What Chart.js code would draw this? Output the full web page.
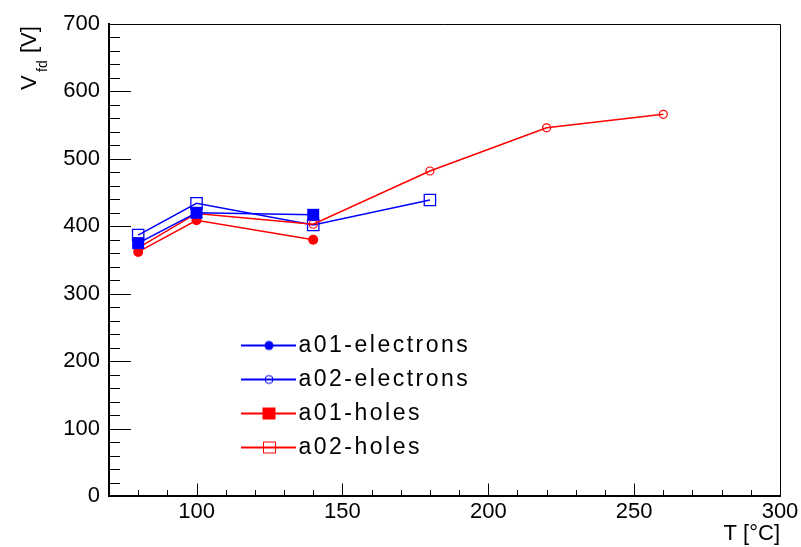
<!DOCTYPE html>
<html>
<head>
<meta charset="utf-8">
<script src="https://cdn.jsdelivr.net/npm/chart.js@4.4.1/dist/chart.umd.min.js"></script>
<style>
  html, body { margin: 0; padding: 0; background: #fff; }
  canvas { display: block; }
</style>
</head>
<body>
<canvas id="vfdChart" width="801" height="547"></canvas>
<script>
const seriesNames = ["a01-electrons", "a02-electrons", "a01-holes", "a02-holes"];

const a01ElectronsT = [80, 100, 140];
const a01ElectronsV = [375, 420, 417];
const a02ElectronsT = [80, 100, 140, 180];
const a02ElectronsV = [387, 434, 402, 439];
const a01HolesT = [80, 100, 140];
const a01HolesV = [362, 409, 380];
const a02HolesT = [80, 100, 140, 180, 220, 260];
const a02HolesV = [368, 419, 403, 482, 546, 566];

const xTickValues = [100, 150, 200, 250, 300];
const yTickValues = [0, 100, 200, 300, 400, 500, 600, 700];
const xMinorStep = 10;
const yMinorStep = 20;

const BLUE = "#0000ff";
const RED = "#ff0000";
const FONT = "'Liberation Sans', Arial, sans-serif";

Chart.defaults.font.family = FONT;
Chart.defaults.color = "#000";

function toPoints(xs, ys) {
    return xs.map((x, i) => ({x: x, y: ys[i]}));
}

// little line + marker pictures for the legend (ROOT style)
function legendSwatch(color, marker) {
    const c = document.createElement("canvas");
    c.width = 64;
    c.height = 20;
    const g = c.getContext("2d");
    g.strokeStyle = color;
    g.fillStyle = color;
    g.lineWidth = 2;
    g.beginPath();
    g.moveTo(9, 10);
    g.lineTo(64, 10);
    g.stroke();
    g.lineWidth = 1;
    if (marker === "dot") {
        g.beginPath();
        g.arc(37, 10, 4.5, 0, Math.PI * 2);
        g.fill();
    } else if (marker === "ring") {
        g.beginPath();
        g.arc(37, 10, 4, 0, Math.PI * 2);
        g.stroke();
    } else if (marker === "box") {
        g.fillRect(30.5, 4, 13, 12);
    } else {
        g.strokeRect(31.5, 4.5, 12, 11);
    }
    return c;
}

const swatches = [
    legendSwatch(BLUE, "dot"),
    legendSwatch(BLUE, "ring"),
    legendSwatch(RED, "box"),
    legendSwatch(RED, "square")
];

const rootFrame = {
    id: "rootFrame",
    afterLayout(chart) {
        const lg = chart.legend;
        if (!lg) return;
        lg.left = 230;
        lg.top = 323;
        lg.right = 780;
        lg.bottom = 323 + 300;
        if (!lg._spaced) {
            const baseDraw = lg.draw.bind(lg);
            lg.draw = function(area) {
                const c = this.ctx;
                c.save();
                c.letterSpacing = "2.5px";
                baseDraw(area);
                c.restore();
            };
            lg._spaced = true;
        }
    },
    beforeDatasetsDraw(chart) {
        const {ctx, chartArea: a, scales: {x, y}} = chart;
        ctx.save();
        ctx.strokeStyle = "#000";
        ctx.lineWidth = 1;
        ctx.beginPath();
        // frame top and right
        ctx.moveTo(a.left, a.top + 0.5);
        ctx.lineTo(a.right + 0.5, a.top + 0.5);
        ctx.lineTo(a.right + 0.5, a.bottom);
        // x ticks, drawn inward
        for (let v = Math.ceil(x.min / xMinorStep) * xMinorStep; v <= x.max; v += xMinorStep) {
            if (v <= x.min) continue;
            const px = Math.round(x.getPixelForValue(v)) + 0.5;
            const len = xTickValues.includes(v) ? 12.5 : 6;
            ctx.moveTo(px, a.bottom);
            ctx.lineTo(px, a.bottom - len);
        }
        // y ticks, drawn inward
        for (let v = y.min + yMinorStep; v <= y.max; v += yMinorStep) {
            const py = Math.round(y.getPixelForValue(v)) + 0.5;
            const len = yTickValues.includes(v) ? 22 : 11;
            ctx.moveTo(a.left, py);
            ctx.lineTo(a.left + len, py);
        }
        ctx.stroke();
        ctx.restore();
    },
    afterDraw(chart) {
        // y axis title with subscript: V_fd [V]
        const ctx = chart.ctx;
        ctx.save();
        ctx.translate(36, 90);
        ctx.rotate(-Math.PI / 2);
        ctx.fillStyle = "#000";
        ctx.textBaseline = "alphabetic";
        ctx.textAlign = "left";
        ctx.font = "22px " + FONT;
        ctx.fillText("V", 0, 0);
        ctx.font = "14px " + FONT;
        ctx.fillText("fd", 18, 11);
        ctx.font = "22px " + FONT;
        ctx.fillText("[V]", 37, 0);
        ctx.restore();
    }
};

new Chart(document.getElementById("vfdChart"), {
    type: "line",
    data: {
        datasets: [
            {
                label: seriesNames[0],
                data: toPoints(a01ElectronsT, a01ElectronsV),
                borderColor: BLUE,
                borderWidth: 1.5,
                pointStyle: "rect",
                pointRadius: 8.5,
                pointBackgroundColor: BLUE,
                pointBorderColor: BLUE,
                pointBorderWidth: 0,
                order: 1
            },
            {
                label: seriesNames[1],
                data: toPoints(a02ElectronsT, a02ElectronsV),
                borderColor: BLUE,
                borderWidth: 1.5,
                pointStyle: "rect",
                pointRadius: 8,
                pointBackgroundColor: "rgba(0,0,0,0)",
                pointBorderColor: BLUE,
                pointBorderWidth: 1.3,
                order: 4
            },
            {
                label: seriesNames[2],
                data: toPoints(a01HolesT, a01HolesV),
                borderColor: RED,
                borderWidth: 1.5,
                pointStyle: "circle",
                pointRadius: 5,
                pointBackgroundColor: RED,
                pointBorderColor: RED,
                pointBorderWidth: 0,
                order: 2
            },
            {
                label: seriesNames[3],
                data: toPoints(a02HolesT, a02HolesV),
                borderColor: RED,
                borderWidth: 1.5,
                pointStyle: "circle",
                pointRadius: 4,
                pointBackgroundColor: "rgba(0,0,0,0)",
                pointBorderColor: RED,
                pointBorderWidth: 1.2,
                order: 3
            }
        ]
    },
    options: {
        responsive: false,
        animation: false,
        layout: { padding: { top: 24, right: 21, left: 0, bottom: 0 } },
        plugins: {
            tooltip: { enabled: false },
            legend: {
                display: true,
                position: "chartArea",
                align: "start",
                labels: {
                    usePointStyle: true,
                    pointStyleWidth: 46,
                    boxHeight: 23,
                    padding: 11,
                    color: "#000",
                    font: { size: 23 },
                    generateLabels: () => seriesNames.map((name, i) => ({
                        text: name,
                        pointStyle: swatches[i],
                        fillStyle: "rgba(0,0,0,0)",
                        strokeStyle: "rgba(0,0,0,0)",
                        lineWidth: 0,
                        hidden: false,
                        datasetIndex: i,
                        fontColor: "#000"
                    }))
                }
            }
        },
        scales: {
            x: {
                type: "linear",
                min: 70,
                max: 300,
                afterBuildTicks: s => { s.ticks = xTickValues.map(v => ({value: v})); },
                afterFit: s => { s.height = 51; s.paddingLeft = 0; s.paddingRight = 0; },
                grid: { display: false, drawTicks: false },
                border: { display: true, color: "#000", width: 2 },
                ticks: { color: "#000", font: { size: 22 }, padding: 3, maxRotation: 0, autoSkip: false },
                title: {
                    display: true,
                    text: "T [°C]",
                    align: "end",
                    color: "#000",
                    font: { size: 22 },
                    padding: { top: 0, bottom: 0 }
                }
            },
            y: {
                type: "linear",
                min: 0,
                max: 700,
                afterBuildTicks: s => { s.ticks = yTickValues.map(v => ({value: v})); },
                afterFit: s => { s.width = 109; s.paddingTop = 0; s.paddingBottom = 0; },
                grid: { display: false, drawTicks: false },
                border: { display: true, color: "#000", width: 2 },
                ticks: { color: "#000", font: { size: 22 }, padding: 9, autoSkip: false }
            }
        }
    },
    plugins: [rootFrame]
});
</script>
</body>
</html>
